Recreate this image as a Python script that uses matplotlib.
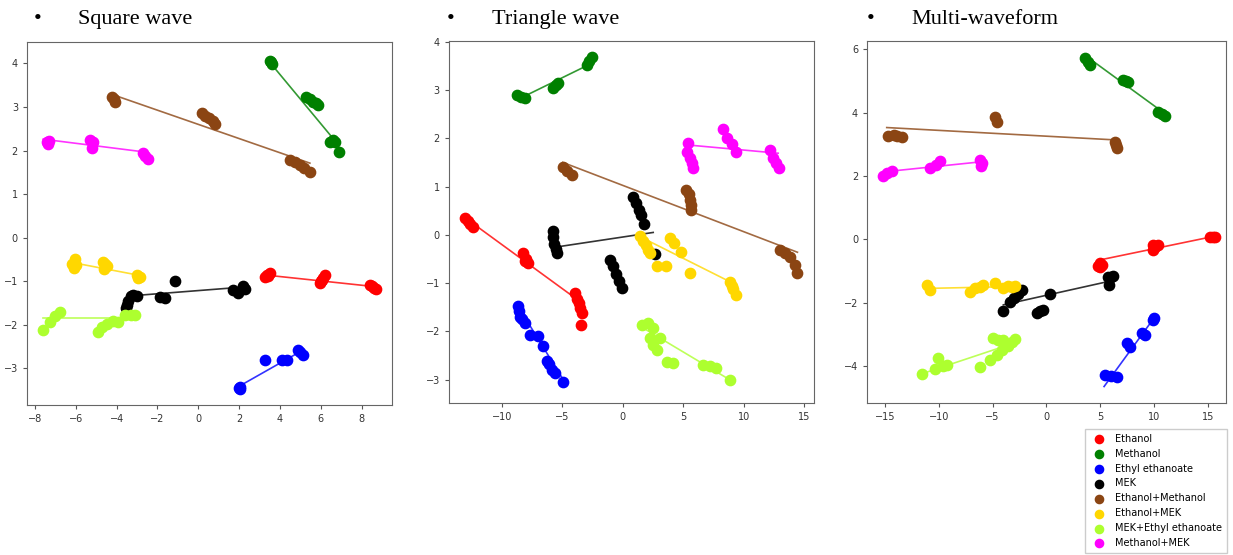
import matplotlib.pyplot as plt

compounds = ['Ethanol', 'Methanol', 'Ethyl ethanoate', 'MEK', 'Ethanol+Methanol',
             'Ethanol+MEK', 'MEK+Ethyl ethanoate', 'Methanol+MEK']
colors = ['red', 'green', 'blue', 'black', 'saddlebrown', 'gold', 'greenyellow', 'magenta']
titles = ['Square wave', 'Triangle wave', 'Multi-waveform']

# Square wave: scatter points (x list, y list) per compound
square_pts = {
    'Ethanol': ([3.25, 3.35, 3.5, 3.4, 5.95, 6.0, 6.1, 6.2, 6.05, 8.4, 8.5, 8.6, 8.7],
                [-0.9, -0.85, -0.82, -0.88, -1.05, -1.0, -0.93, -0.85, -0.97, -1.08, -1.12, -1.16, -1.18]),
    'Methanol': ([3.5, 3.6, 3.55, 5.3, 5.45, 5.6, 5.75, 5.85, 6.45, 6.6, 6.7, 6.9],
                 [4.05, 3.98, 4.02, 3.22, 3.18, 3.12, 3.08, 3.04, 2.2, 2.24, 2.2, 1.97]),
    'Ethyl ethanoate': ([2.04, 1.98, 2.06, 3.27, 4.08, 4.33, 4.9, 4.98, 5.14],
                        [-3.42, -3.46, -3.48, -2.81, -2.81, -2.81, -2.58, -2.62, -2.69]),
    'MEK': ([-3.3, -3.2, -3.45, -3.5, -3.55, -3.0, -1.88, -1.63, -1.14, 1.71, 1.95, 2.2, 2.29],
            [-1.35, -1.32, -1.45, -1.55, -1.62, -1.35, -1.36, -1.38, -0.99, -1.2, -1.27, -1.12, -1.18]),
    'Ethanol+Methanol': ([-4.24, -4.15, -4.08, 0.16, 0.35, 0.55, 0.7, 0.82, 4.5, 4.75, 5.0, 5.2, 5.47],
                         [3.22, 3.18, 3.12, 2.85, 2.8, 2.74, 2.68, 2.61, 1.78, 1.73, 1.67, 1.6, 1.51]),
    'Ethanol+MEK': ([-6.2, -6.05, -6.1, -6.0, -4.65, -4.55, -4.49, -4.6, -3.0, -2.86, -2.95],
                    [-0.6, -0.49, -0.7, -0.63, -0.55, -0.6, -0.65, -0.72, -0.86, -0.9, -0.93]),
    'MEK+Ethyl ethanoate': ([-7.59, -7.27, -7.0, -6.78, -4.9, -4.7, -4.45, -4.16, -3.92, -3.6, -3.3, -3.1],
                            [-2.12, -1.93, -1.8, -1.7, -2.16, -2.05, -1.97, -1.92, -1.93, -1.78, -1.78, -1.78]),
    'Methanol+MEK': ([-7.43, -7.35, -7.3, -5.3, -5.14, -5.22, -2.7, -2.6, -2.45],
                     [2.2, 2.15, 2.22, 2.24, 2.2, 2.05, 1.94, 1.88, 1.8]),
}
square_fit = {
    'Ethanol': ([3.35, 8.57], [-0.86, -1.12]),
    'Methanol': ([3.48, 6.65], [4.04, 2.25]),
    'Ethyl ethanoate': ([2.04, 4.98], [-3.4, -2.62]),
    'MEK': ([-3.43, 2.04], [-1.34, -1.14]),
    'Ethanol+Methanol': ([-4.24, 5.47], [3.29, 1.71]),
    'Ethanol+MEK': ([-5.96, -2.94], [-0.59, -0.86]),
    'MEK+Ethyl ethanoate': ([-7.6, -3.2], [-1.84, -1.84]),
    'Methanol+MEK': ([-7.6, -2.69], [2.26, 1.97]),
}

# Triangle wave
triangle_pts = {
    'Ethanol': ([-13.0, -12.8, -12.6, -12.4, -8.2, -8.0, -7.8, -8.1, -3.95, -3.8, -3.65, -3.5, -3.4, -3.45],
                [0.35, 0.28, 0.22, 0.16, -0.38, -0.5, -0.59, -0.55, -1.21, -1.32, -1.42, -1.52, -1.62, -1.86]),
    'Methanol': ([-8.77, -8.4, -8.1, -5.73, -5.5, -5.33, -2.98, -2.75, -2.5],
                 [2.9, 2.86, 2.83, 3.03, 3.1, 3.14, 3.52, 3.6, 3.69]),
    'Ethyl ethanoate': ([-8.62, -8.55, -8.48, -8.3, -8.07, -7.66, -6.97, -6.56, -6.29, -6.1, -5.87, -5.6, -4.91],
                        [-1.48, -1.58, -1.69, -1.75, -1.83, -2.07, -2.1, -2.31, -2.62, -2.68, -2.79, -2.86, -3.05]),
    'MEK': ([-5.8, -5.75, -5.65, -5.55, -5.45, 0.87, 1.1, 1.35, 1.55, 1.78, -1.05, -0.8, -0.55, -0.3, -0.09, 2.66],
            [0.07, -0.05, -0.18, -0.3, -0.38, 0.79, 0.65, 0.52, 0.42, 0.22, -0.52, -0.65, -0.8, -0.95, -1.1, -0.4]),
    'Ethanol+Methanol': ([-4.9, -4.6, -4.22, 5.27, 5.45, 5.55, 5.62, 5.68, 12.99, 13.4, 13.8, 14.2, 14.4],
                         [1.41, 1.32, 1.24, 0.93, 0.85, 0.72, 0.62, 0.52, -0.31, -0.38, -0.46, -0.62, -0.78]),
    'Ethanol+MEK': ([1.42, 1.7, 1.95, 2.1, 2.25, 3.9, 4.2, 4.8, 2.8, 3.6, 5.55, 8.85, 9.0, 9.15, 9.4],
                    [-0.03, -0.12, -0.2, -0.31, -0.38, -0.07, -0.17, -0.36, -0.64, -0.65, -0.79, -0.97, -1.05, -1.12, -1.24]),
    'MEK+Ethyl ethanoate': ([1.56, 2.1, 2.52, 2.25, 2.52, 2.85, 3.07, 3.62, 4.17, 6.65, 7.2, 7.75, 8.85],
                            [-1.86, -1.83, -1.93, -2.14, -2.28, -2.38, -2.14, -2.64, -2.66, -2.69, -2.71, -2.76, -3.0]),
    'Methanol+MEK': ([5.41, 5.35, 5.55, 5.7, 5.77, 8.3, 8.6, 9.0, 9.35, 12.16, 12.4, 12.7, 12.93],
                     [1.9, 1.72, 1.6, 1.48, 1.38, 2.2, 2.0, 1.88, 1.72, 1.76, 1.6, 1.48, 1.38]),
}
triangle_fit = {
    'Ethanol': ([-12.62, -4.08], [0.28, -1.28]),
    'Methanol': ([-8.77, -2.57], [2.79, 3.55]),
    'Ethyl ethanoate': ([-8.6, -4.91], [-1.5, -3.0]),
    'MEK': ([-5.18, 2.52], [-0.24, 0.05]),
    'Ethanol+Methanol': ([-4.96, 14.44], [1.5, -0.36]),
    'Ethanol+MEK': ([1.69, 8.86], [-0.07, -0.97]),
    'MEK+Ethyl ethanoate': ([1.97, 8.85], [-1.97, -3.0]),
    'Methanol+MEK': ([5.41, 12.85], [1.86, 1.69]),
}

# Multi-waveform
multi_pts = {
    'Ethanol': ([4.83, 4.95, 5.14, 5.0, 9.95, 10.1, 9.95, 10.4, 15.2, 15.45, 15.7],
                [-0.84, -0.76, -0.8, -0.88, -0.18, -0.25, -0.34, -0.18, 0.08, 0.08, 0.08]),
    'Methanol': ([3.6, 3.85, 4.06, 7.16, 7.4, 7.62, 10.4, 10.7, 11.0],
                 [5.72, 5.6, 5.5, 5.03, 5.0, 4.98, 4.03, 3.95, 3.9]),
    'Ethyl ethanoate': ([5.45, 6.0, 6.54, 7.47, 7.78, 8.86, 9.17, 9.95, 10.0],
                        [-4.28, -4.32, -4.34, -3.28, -3.39, -2.97, -3.02, -2.55, -2.5]),
    'MEK': ([-4.06, -3.38, -3.0, -2.6, -2.29, -0.9, -0.6, -0.28, 0.34, 5.76, 6.0, 6.23, 5.8],
            [-2.25, -1.97, -1.85, -1.72, -1.6, -2.34, -2.26, -2.23, -1.74, -1.18, -1.2, -1.15, -1.44]),
    'Ethanol+Methanol': ([-14.69, -14.2, -13.9, -13.45, -4.77, -4.62, 6.38, 6.45, 6.54],
                         [3.26, 3.3, 3.25, 3.24, 3.85, 3.72, 3.08, 2.98, 2.87]),
    'Ethanol+MEK': ([-11.12, -10.8, -7.1, -6.6, -6.2, -5.86, -4.77, -4.0, -3.6, -3.2, -2.9],
                    [-1.44, -1.6, -1.65, -1.55, -1.5, -1.44, -1.37, -1.55, -1.47, -1.52, -1.47]),
    'MEK+Ethyl ethanoate': ([-11.59, -10.35, -10.04, -9.57, -9.27, -6.17, -4.93, -4.5, -4.0,
                             -5.24, -4.6, -4.1, -3.6, -3.2, -2.9],
                            [-4.25, -4.1, -3.76, -4.0, -3.98, -4.02, -3.13, -3.18, -3.18,
                             -3.81, -3.65, -3.5, -3.38, -3.23, -3.15]),
    'Methanol+MEK': ([-15.15, -14.8, -14.38, -10.8, -10.3, -9.9, -6.17, -6.01, -6.1],
                     [2.0, 2.08, 2.17, 2.24, 2.35, 2.48, 2.5, 2.4, 2.3]),
}
multi_fit = {
    'Ethanol': ([4.99, 15.37], [-0.65, 0.08]),
    'Methanol': ([3.75, 10.57], [5.77, 4.08]),
    'Ethyl ethanoate': ([5.36, 10.1], [-4.65, -2.44]),
    'MEK': ([-4.0, 5.92], [-2.07, -1.32]),
    'Ethanol+Methanol': ([-14.84, 6.38], [3.53, 3.14]),
    'Ethanol+MEK': ([-10.97, -2.76], [-1.55, -1.49]),
    'MEK+Ethyl ethanoate': ([-11.59, -4.0], [-4.25, -3.39]),
    'Methanol+MEK': ([-14.84, -6.01], [2.14, 2.45]),
}

panels = [
    (square_pts, square_fit, [0.0219, 0.2703, 0.296, 0.654], (-8.39, 9.49), (-3.84, 4.49), [-8, -6, -4, -2, 0, 2, 4, 6, 8]),
    (triangle_pts, triangle_fit, [0.3641, 0.2739, 0.296, 0.652], (-14.36, 15.8), (-3.48, 4.01), [-10, -5, 0, 5, 10, 15]),
    (multi_pts, multi_fit, [0.7032, 0.2739, 0.2912, 0.652], (-16.67, 16.7), (-5.17, 6.26), [-15, -10, -5, 0, 5, 10, 15]),
]
title_x = [(0.027, 0.063), (0.3625, 0.399), (0.703, 0.7395)]


def main():
    fig = plt.figure(figsize=(12.33, 5.55), dpi=100)

    for i, (pts, fit, pos, xlim, ylim, xticks) in enumerate(panels):
        ax = fig.add_axes(pos)
        for name, c in zip(compounds, colors):
            ax.plot(fit[name][0], fit[name][1], color=c, lw=1.2, alpha=0.8, zorder=1)
            ax.scatter(pts[name][0], pts[name][1], color=c, s=55, zorder=2,
                       label=name if i == 0 else None)
        ax.set_xlim(xlim)
        ax.set_ylim(ylim)
        ax.set_xticks(xticks)
        ax.tick_params(labelsize=7, labelcolor='#333333', color='#555555', length=3)
        for sp in ax.spines.values():
            sp.set_color('#666666')

        bx, tx = title_x[i]
        fig.text(bx, 0.965, '\u2022', fontsize=16, family='Liberation Serif', va='center')
        fig.text(tx, 0.965, titles[i], fontsize=16, family='Liberation Serif', va='center')

    handles, labels = fig.axes[0].get_legend_handles_labels()
    fig.legend(handles, labels, loc='lower right', bbox_to_anchor=(0.995, 0.004),
               borderaxespad=0, fontsize=7, markerscale=0.8, handletextpad=0.6,
               labelspacing=0.5, borderpad=0.5, framealpha=1, edgecolor='#cccccc',
               fancybox=False)

    plt.savefig('out.png', dpi=100)


if __name__ == "__main__":
    main()
